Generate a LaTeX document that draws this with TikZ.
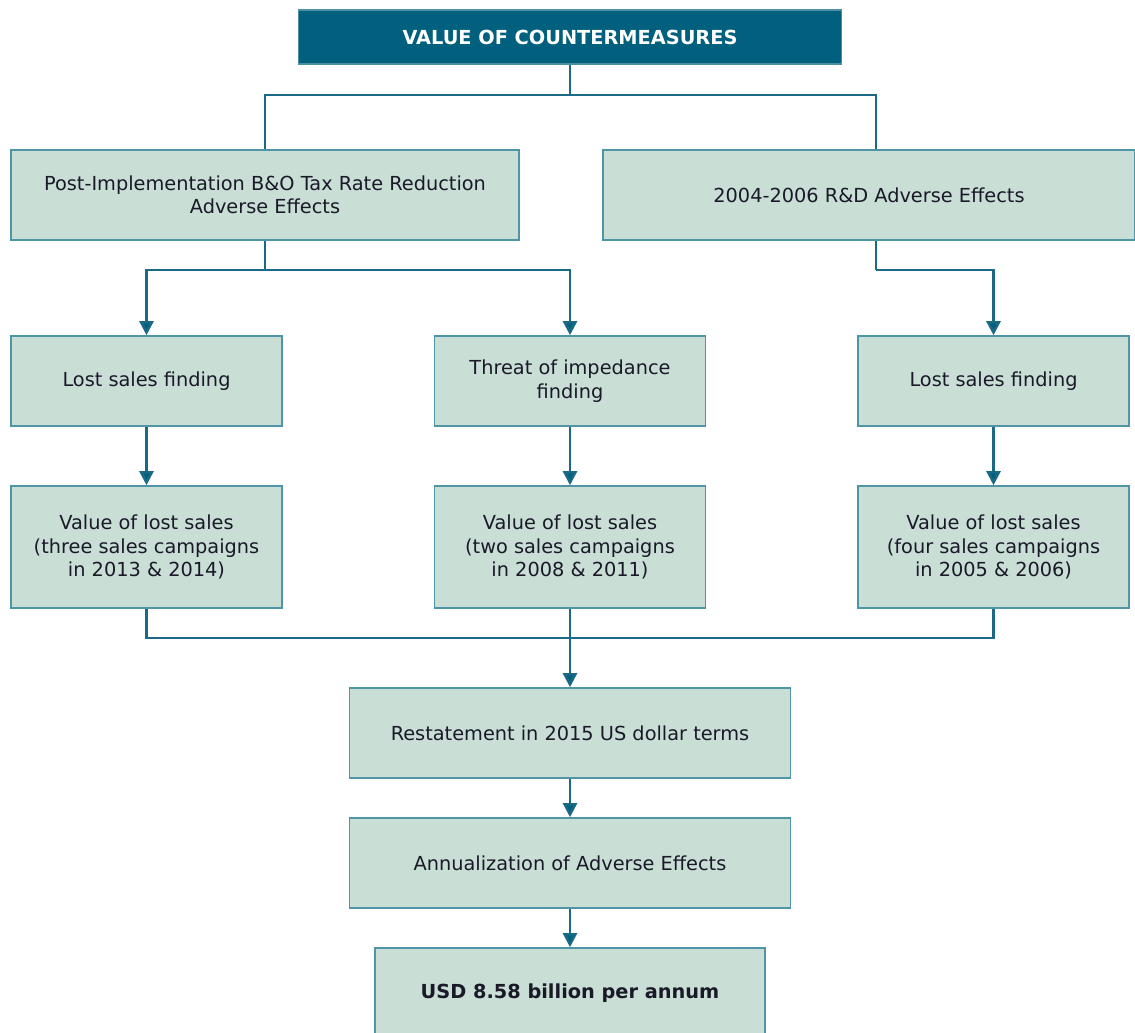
\documentclass[tikz,border=0pt]{standalone}
\usepackage{fontspec}
\usepackage{tikz}
\usetikzlibrary{arrows.meta}
\newfontfamily\boxfont{DejaVu Sans}
\definecolor{headblue}{RGB}{0,96,125}
\definecolor{boxfill}{RGB}{201,223,214}
\definecolor{boxline}{RGB}{80,148,168}
\definecolor{linkblue}{RGB}{26,106,134}
\definecolor{boxtext}{RGB}{25,25,40}
\tikzset{
  box/.style={draw=boxline,line width=0.9pt,fill=boxfill,align=center,text=boxtext,
    font=\boxfont\fontsize{11}{13.3}\selectfont},
  headbox/.style={box,fill=headblue,draw=headblue!70!white,text=white,
    font=\boxfont\bfseries\fontsize{11}{13.3}\selectfont},
  link/.style={draw=linkblue,line width=1.4pt},
  arrowlink/.style={link,-{Triangle[width=8pt,length=8pt,fill=headblue]}}
}
% name, centre, width, height (in px of the drawing), text
\newcommand{\flowbox}[6][box]{
\node[#1,minimum width=#4*0.02cm,minimum height=#5*0.02cm] (#2) at (#3) {#6};
}

\begin{document}
\begin{tikzpicture}[x=0.02cm,y=-0.02cm]
\useasboundingbox (0,0) rectangle (1135,1032);

\flowbox[headbox]{title}{570,37}{543}{54}{VALUE OF COUNTERMEASURES}

\flowbox{postA}{265,195}{508}{90}{Post-Implementation B\&O Tax Rate Reduction\\Adverse Effects}
\flowbox{rdB}{869,195}{532}{90}{2004-2006 R\&D Adverse Effects}

\flowbox{lostL}{146.5,381}{271}{90}{Lost sales finding}
\flowbox{threat}{570,381}{271}{90}{Threat of impedance\\finding}
\flowbox{lostR}{993.5,381}{271}{90}{Lost sales finding}

\flowbox{valL}{146.5,547}{271}{122}{Value of lost sales\\(three sales campaigns\\in 2013 \& 2014)}
\flowbox{valM}{570,547}{271}{122}{Value of lost sales\\(two sales campaigns\\in 2008 \& 2011)}
\flowbox{valR}{993.5,547}{271}{122}{Value of lost sales\\(four sales campaigns\\in 2005 \& 2006)}

\flowbox{restate}{570,733}{441}{90}{Restatement in 2015 US dollar terms}
\flowbox{annual}{570,863}{441}{90}{Annualization of Adverse Effects}
\flowbox{usd}{570,993}{390}{90}{\textbf{USD 8.58 billion per annum}}

% top split
\coordinate (split1) at (570,95);
\draw[link] (title.south) -- (split1);
\draw[link] (split1) -| (postA.north);
\draw[link] (split1) -| ([xshift=7*0.02cm]rdB.north);

% second tier
\coordinate (split2) at (265,270);
\draw[link] (postA.south) -- (split2);
\draw[arrowlink] (split2) -| (lostL.north);
\draw[arrowlink] (split2) -| (threat.north);
\coordinate (split3) at (876,270);
\draw[link] ([xshift=7*0.02cm]rdB.south) -- (split3);
\draw[arrowlink] (split3) -| (lostR.north);

\draw[arrowlink] (lostL) -- (valL);
\draw[arrowlink] (threat) -- (valM);
\draw[arrowlink] (lostR) -- (valR);

% merge
\coordinate (merge) at (570,638);
\draw[link] (valL.south) |- (merge) -| (valR.south);
\draw[link] (valM.south) -- (merge);
\draw[arrowlink] (merge) -- (restate.north);
\draw[arrowlink] (restate) -- (annual);
\draw[arrowlink] (annual) -- (usd);
\end{tikzpicture}
\end{document}
